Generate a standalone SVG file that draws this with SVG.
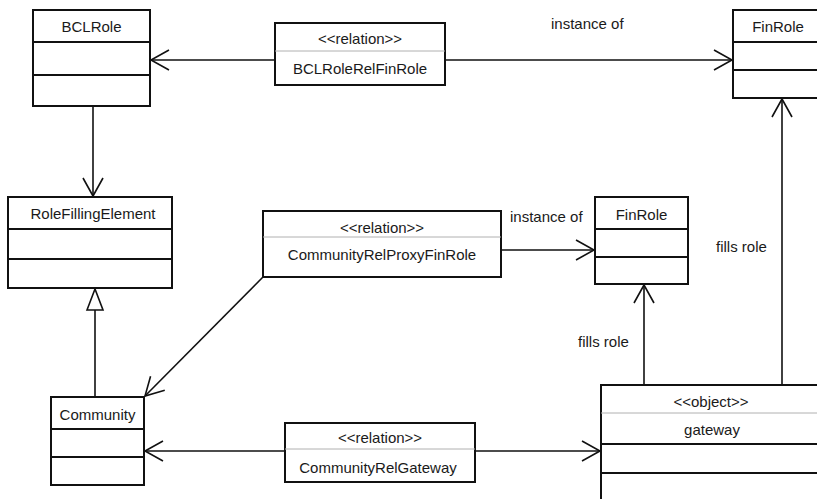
<svg xmlns="http://www.w3.org/2000/svg" width="817" height="499" viewBox="0 0 817 499">
  <style>
    .box { fill: #ffffff; stroke: #111111; stroke-width: 2; }
    .div { stroke: #111111; stroke-width: 2; fill: none; }
    .sdiv { stroke: #b0b0b0; stroke-width: 1; fill: none; }
    .edge { stroke: #111111; stroke-width: 1.6; fill: none; }
    text { font-family: "Liberation Sans", Arial, sans-serif; font-size: 15px; fill: #1a1a1a; text-anchor: middle; }
    .lbl { text-anchor: start; }
  </style>
  <defs>
    <marker id="open" viewBox="-20 -12 22 24" refX="0" refY="0" markerWidth="22" markerHeight="24" markerUnits="userSpaceOnUse" orient="auto" overflow="visible">
      <path d="M -18,-10 L 0,0 L -18,10" fill="none" stroke="#111111" stroke-width="1.6"/>
    </marker>
    <marker id="gen" viewBox="-24 -10 26 20" refX="0" refY="0" markerWidth="26" markerHeight="20" markerUnits="userSpaceOnUse" orient="auto" overflow="visible">
      <path d="M -21,-8 L 0,0 L -21,8 Z" fill="#ffffff" stroke="#111111" stroke-width="1.6"/>
    </marker>
  </defs>

  <rect width="817" height="499" fill="#ffffff"/>

  <!-- connectors -->
  <g id="connectors">
    <path class="edge" d="M 275,60 L 151,60" marker-end="url(#open)"/>
    <path class="edge" d="M 445,60 L 732,60" marker-end="url(#open)"/>
    <path class="edge" d="M 93,106 L 93,196" marker-end="url(#open)"/>
    <path class="edge" d="M 95,397 L 95,289" marker-end="url(#gen)"/>
    <path class="edge" d="M 501,250 L 594,250" marker-end="url(#open)"/>
    <path class="edge" d="M 263,277 L 145,396" marker-end="url(#open)"/>
    <path class="edge" d="M 644,385 L 644,285" marker-end="url(#open)"/>
    <path class="edge" d="M 782,385 L 782,99" marker-end="url(#open)"/>
    <path class="edge" d="M 285,451 L 145,451" marker-end="url(#open)"/>
    <path class="edge" d="M 475,451 L 600,451" marker-end="url(#open)"/>
    <text class="lbl" x="551" y="29">instance of</text>
    <text class="lbl" x="510" y="222">instance of</text>
    <text class="lbl" x="716" y="252">fills role</text>
    <text class="lbl" x="578" y="347">fills role</text>
  </g>

  <!-- class BCLRole -->
  <g id="bclrole">
    <rect class="box" x="33" y="10" width="117" height="96"/>
    <line class="div" x1="33" y1="42" x2="150" y2="42"/>
    <line class="div" x1="33" y1="75" x2="150" y2="75"/>
    <text x="91.5" y="32">BCLRole</text>
  </g>

  <!-- relation BCLRoleRelFinRole -->
  <g id="rel-bclrole-finrole">
    <rect class="box" x="275" y="23" width="170" height="62"/>
    <line class="sdiv" x1="275" y1="51" x2="445" y2="51"/>
    <text x="360" y="44">&lt;&lt;relation&gt;&gt;</text>
    <text x="360" y="74">BCLRoleRelFinRole</text>
  </g>

  <!-- class FinRole (top) -->
  <g id="finrole-top">
    <rect class="box" x="733" y="10" width="90" height="88"/>
    <line class="div" x1="733" y1="42" x2="823" y2="42"/>
    <line class="div" x1="733" y1="70" x2="823" y2="70"/>
    <text x="778" y="32">FinRole</text>
  </g>

  <!-- class RoleFillingElement -->
  <g id="rolefillingelement">
    <rect class="box" x="8" y="197" width="164" height="91"/>
    <line class="div" x1="8" y1="229" x2="172" y2="229"/>
    <line class="div" x1="8" y1="259" x2="172" y2="259"/>
    <text x="93" y="219">RoleFillingElement</text>
  </g>

  <!-- relation CommunityRelProxyFinRole -->
  <g id="rel-community-proxyfinrole">
    <rect class="box" x="263" y="211" width="238" height="66"/>
    <line class="sdiv" x1="263" y1="237" x2="501" y2="237"/>
    <text x="382" y="233">&lt;&lt;relation&gt;&gt;</text>
    <text x="382" y="260">CommunityRelProxyFinRole</text>
  </g>

  <!-- class FinRole (middle) -->
  <g id="finrole-mid">
    <rect class="box" x="595" y="197" width="93" height="87"/>
    <line class="div" x1="595" y1="229" x2="688" y2="229"/>
    <line class="div" x1="595" y1="257" x2="688" y2="257"/>
    <text x="641.5" y="220">FinRole</text>
  </g>

  <!-- class Community -->
  <g id="community">
    <rect class="box" x="51" y="397" width="93" height="88"/>
    <line class="div" x1="51" y1="429" x2="144" y2="429"/>
    <line class="div" x1="51" y1="457" x2="144" y2="457"/>
    <text x="97.5" y="420">Community</text>
  </g>

  <!-- relation CommunityRelGateway -->
  <g id="rel-community-gateway">
    <rect class="box" x="285" y="423" width="190" height="59"/>
    <line class="sdiv" x1="285" y1="449" x2="475" y2="449"/>
    <text x="380" y="443">&lt;&lt;relation&gt;&gt;</text>
    <text x="378" y="473">CommunityRelGateway</text>
  </g>

  <!-- object gateway -->
  <g id="gateway">
    <rect class="box" x="601" y="385" width="222" height="130"/>
    <line class="sdiv" x1="601" y1="413" x2="823" y2="413"/>
    <line class="div" x1="601" y1="444" x2="823" y2="444"/>
    <line class="div" x1="601" y1="473" x2="823" y2="473"/>
    <text x="711" y="407">&lt;&lt;object&gt;&gt;</text>
    <text x="712" y="435">gateway</text>
  </g>
</svg>
